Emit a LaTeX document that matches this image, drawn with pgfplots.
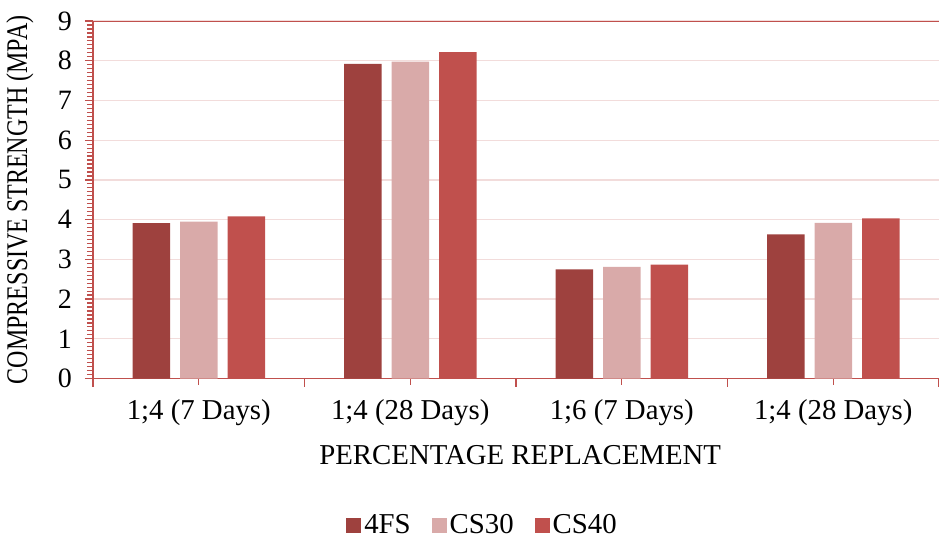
\documentclass[border=0pt]{standalone}
\usepackage{pgfplots}
\pgfplotsset{compat=1.18}
\usepackage{fontspec}
\setmainfont{Liberation Serif}
\newfontfamily\ylabfont{Liberation Serif}[FakeStretch=0.8]

\definecolor{fsred}{HTML}{9E413E}
\definecolor{cslight}{HTML}{D9AAA9}
\definecolor{csred}{HTML}{C0504D}
\definecolor{gridpink}{HTML}{F2DCDB}
\definecolor{axisred}{HTML}{C0504D}

\begin{document}
\begin{tikzpicture}[font=\fontsize{14.4bp}{17bp}\selectfont]
\useasboundingbox (0,0) rectangle (469.5bp,-271bp);
\begin{axis}[
  at={(46.5bp,-189.25bp)}, anchor=south west,
  width=423bp, height=178.75bp, scale only axis,
  xmin=-0.5, xmax=3.5, ymin=0, ymax=9,
  ybar=5bp, bar width=18.75bp,
  axis lines*=left,
  axis line style={axisred, line width=0.8bp, -},
  tick align=outside,
  tick style={axisred, line width=0.6bp},
  major tick length=4bp, minor tick length=3bp,
  xtick style={/pgfplots/major tick length=3bp, /pgfplots/minor tick length=4bp},
  xtick={0,1,2,3},
  xticklabels={1;4 (7 Days), 1;4 (28 Days), 1;6 (7 Days), 1;4 (28 Days)},
  minor xtick={-0.5,0.5,1.5,2.5,3.5},
  ytick={0,1,...,9}, minor y tick num=9,
  /pgf/number format/assume math mode=true,
  ymajorgrids, major grid style={gridpink, line width=0.6bp},
  yticklabel style={font=\fontsize{14bp}{16bp}\selectfont, xshift=-3bp},
  xticklabel style={yshift=-3bp},
  xlabel={PERCENTAGE REPLACEMENT},
  xlabel style={at={(axis description cs:0.505,-0.214)}, anchor=center},
  ylabel={COMPRESSIVE STRENGTH (MPA)},
  ylabel style={at={(axis description cs:-0.0863,0.5)}, anchor=center,
    font=\ylabfont\fontsize{15bp}{17bp}\selectfont},
  legend style={at={(axis description cs:0.461,-0.41)}, anchor=center,
    draw=none, legend columns=-1, font=\fontsize{14.4bp}{17bp}\selectfont,
    nodes={inner xsep=1.5bp},
    /tikz/every odd column/.append style={column sep=0bp},
    /tikz/every even column/.append style={column sep=9bp}},
  legend image code/.code={\fill[#1] (0bp,-3.75bp) rectangle (7.5bp,3.75bp);},
]
\addplot[fill=fsred, draw=none] coordinates {(0,3.91) (1,7.92) (2,2.75) (3,3.63)};
\addplot[fill=cslight, draw=none] coordinates {(0,3.95) (1,7.98) (2,2.81) (3,3.92)};
\addplot[fill=csred, draw=none] coordinates {(0,4.08) (1,8.22) (2,2.87) (3,4.03)};
\legend{4FS, CS30, CS40}
\draw[axisred, line width=0.8bp] (rel axis cs:0,1) -- (rel axis cs:1,1);
\end{axis}
\end{tikzpicture}
\end{document}
